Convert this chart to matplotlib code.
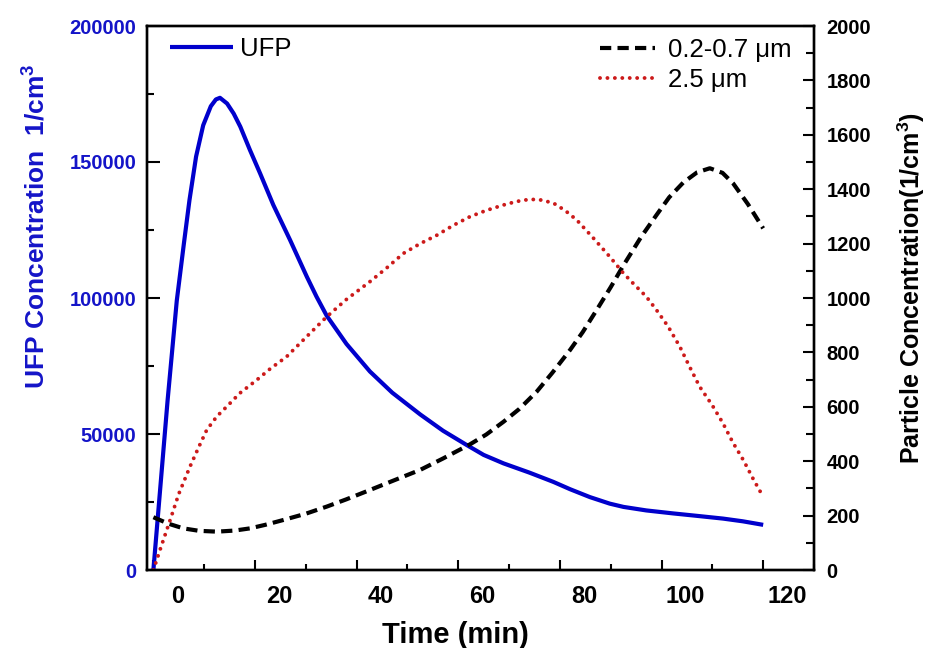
import matplotlib
matplotlib.use('Agg')
import matplotlib.pyplot as plt
from matplotlib.ticker import MultipleLocator
from matplotlib.transforms import ScaledTranslation

plt.rcParams['font.family'] = ['Liberation Sans', 'DejaVu Sans']
plt.rcParams['mathtext.fontset'] = 'custom'
plt.rcParams['mathtext.rm'] = 'Liberation Sans:bold'
plt.rcParams['mathtext.bf'] = 'Liberation Sans:bold'
plt.rcParams['mathtext.it'] = 'Liberation Sans:bold:italic'

# ---- data ----
ufp_time = [0, 2.8, 4.6, 6.0, 7.1, 8.4, 9.8, 11.3, 12.3, 13.1, 14.5, 15.8, 17.1, 19.0,
            21.0, 23.6, 26.9, 30.2, 32.1, 34.1, 38.0, 42.6, 47.0, 52.5, 57.0, 61.7,
            65.0, 68.9, 74.0, 78.7, 82.0, 85.9, 89.8, 92.5, 97.0, 102.3, 107.0, 112.1,
            116.0, 120]
ufp_conc = [0, 62500, 99000, 120000, 136000, 152000, 163500, 170500, 173000, 173600,
            171500, 167800, 163000, 154400, 145800, 134200, 121300, 107800, 100500,
            93500, 83100, 73000, 65200, 57200, 51200, 45900, 42300, 39200, 35800, 32400,
            29700, 26800, 24400, 23200, 21900, 20800, 19900, 18900, 17900, 16600]

fine_time = [0, 3.0, 5.9, 9.0, 12.5, 16.0, 19.0, 22.0, 25.6, 30.0, 34.1, 38.0, 42.6,
             47.0, 52.5, 57.0, 62.3, 65.5, 68.9, 72.0, 75.4, 78.5, 82.0, 84.5, 87.2,
             90.0, 92.5, 96.0, 99.0, 101.5, 104.3, 107.0, 109.5, 112.0, 114.1, 117.0, 120]
fine_conc = [194, 170, 153, 144, 141, 145, 153, 166, 184, 207, 233, 260, 294, 327, 368,
             410, 462, 498, 545, 592, 655, 725, 809, 875, 955, 1040, 1120, 1225, 1305,
             1370, 1425, 1462, 1477, 1460, 1421, 1345, 1256]

coarse_time = [0, 1.5, 3.3, 5.0, 7.2, 9.0, 10.5, 12.5, 14.4, 17.0, 20.3, 23.0, 26.2, 30.0,
               34.1, 38.0, 42.6, 46.0, 49.2, 52.5, 55.8, 59.0, 62.3, 65.5, 68.9, 71.5,
               74.1, 76.5, 78.8, 81.0, 83.3, 86.5, 89.8, 92.5, 94.4, 97.0, 99.0, 101.3,
               103.6, 105.5, 107.5, 110.0, 112.1, 114.0, 116.1, 118.0, 120]
coarse_conc = [0, 85, 184, 280, 380, 455, 515, 565, 600, 650, 698, 740, 784, 855, 931,
               995, 1060, 1112, 1164, 1200, 1231, 1267, 1299, 1322, 1342, 1355, 1363,
               1360, 1348, 1322, 1287, 1222, 1152, 1091, 1054, 1005, 956, 895, 821, 748,
               674, 605, 539, 470, 404, 336, 269]

ufp_label = 'UFP'
fine_label = '0.2-0.7 \u03bcm'
coarse_label = '2.5 \u03bcm'

blue = '#0000cc'
red = '#cc1a1a'

fig = plt.figure(figsize=(9.28, 6.48), dpi=100)
ax = fig.add_axes([147.3 / 928, 1 - 570 / 648, (814 - 147.3) / 928, (570 - 26) / 648])
ax2 = ax.twinx()

l1, = ax.plot(ufp_time, ufp_conc, color=blue, lw=3.0, solid_capstyle='butt',
              solid_joinstyle='round', label=ufp_label)
l2, = ax2.plot(fine_time, fine_conc, color='black', lw=3.0, linestyle=(0, (2.7, 1.5)),
               dash_capstyle='butt', label=fine_label)
l3, = ax2.plot(coarse_time, coarse_conc, color=red, lw=2.8, linestyle=(0, (0.01, 1.9)),
               dash_capstyle='round', label=coarse_label)

ax.set_xlim(-1.2, 130)
ax.set_ylim(0, 200000)
ax2.set_ylim(0, 2000)

ax.xaxis.set_major_locator(MultipleLocator(20))
ax.xaxis.set_minor_locator(MultipleLocator(10))
ax.yaxis.set_major_locator(MultipleLocator(50000))
ax.yaxis.set_minor_locator(MultipleLocator(25000))
ax2.yaxis.set_major_locator(MultipleLocator(200))
ax2.yaxis.set_minor_locator(MultipleLocator(100))

for a in (ax, ax2):
    for s in a.spines.values():
        s.set_linewidth(1.7)

ax.tick_params(axis='x', which='major', direction='in', length=7.5, width=1.5,
               labelsize=17, pad=10.5, top=False)
ax.tick_params(axis='x', which='minor', direction='in', length=4, width=1.5, top=False)
ax.tick_params(axis='y', which='major', direction='in', length=9, width=1.5,
               labelsize=14.5, pad=8, labelcolor='#1414c8')
ax.tick_params(axis='y', which='minor', direction='in', length=5, width=1.5)
ax2.tick_params(axis='y', which='major', direction='in', length=8, width=1.5,
                labelsize=14.5, pad=9)
ax2.tick_params(axis='y', which='minor', direction='in', length=6, width=1.5)

for lab in ax.get_xticklabels() + ax.get_yticklabels() + ax2.get_yticklabels():
    lab.set_fontweight('bold')

# labels in the reference sit ~24 px right of their tick marks
shift = ScaledTranslation(24 / 100, 0, fig.dpi_scale_trans)
for lab in ax.get_xticklabels():
    lab.set_transform(lab.get_transform() + shift)

ax.set_xlabel('Time (min)', fontsize=21, fontweight='bold')
ax.xaxis.set_label_coords((455 - 147.3) / 666.7, -(621 - 570) / 544)
ax.set_ylabel('UFP Concentration  1/cm$^3$', fontsize=19, fontweight='bold', color='#1414c8')
ax.yaxis.set_label_coords(-(147.3 - 50) / 666.7, (570 - 226) / 544)
ax2.set_ylabel('Particle Concentration(1/cm$^3$)', fontsize=18, fontweight='bold',
               rotation=90)
ax2.yaxis.set_label_coords((896 - 147.3) / 666.7, (570 - 288) / 544)

leg1 = ax.legend(handles=[l1], loc='center left',
                 bbox_to_anchor=((170 - 147.3) / 666.7, 1 - (49.3 - 26) / 544),
                 frameon=False, fontsize=18.5, handlelength=2.45, handletextpad=0.27,
                 borderpad=0, borderaxespad=0)
leg2 = ax2.legend(handles=[l2, l3], loc='center left',
                  bbox_to_anchor=((600 - 147.3) / 666.7, 1 - (65 - 26) / 544),
                  frameon=False, fontsize=18.5, handlelength=2.14, handletextpad=0.5,
                  borderpad=0, borderaxespad=0, labelspacing=0.2)

fig.savefig('out.png', dpi=100)
